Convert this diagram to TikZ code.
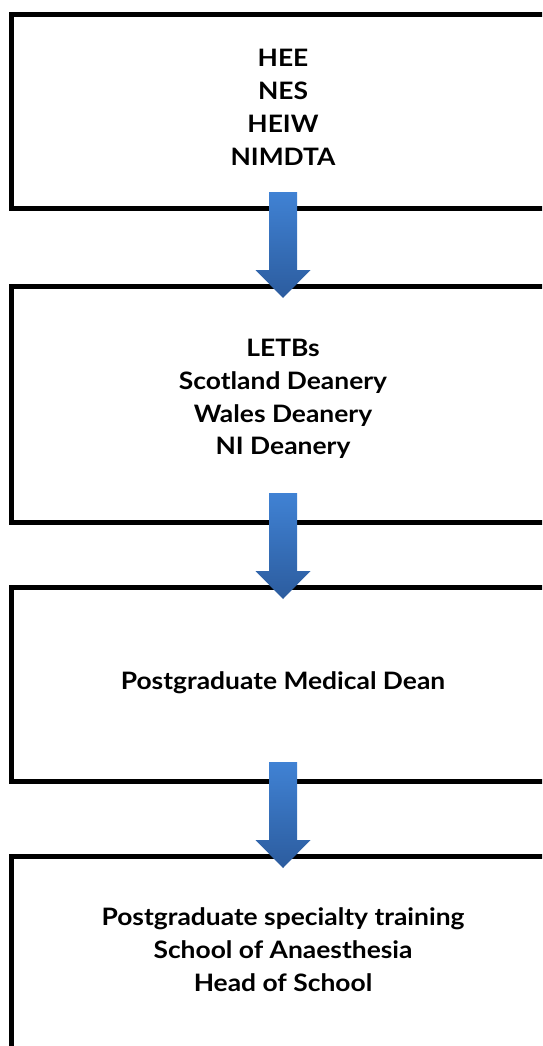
\documentclass[tikz,border=0pt]{standalone}
\usepackage{fontspec}
\setmainfont{Lato}[FakeStretch=1.1]
\usetikzlibrary{calc}
\definecolor{arrowtop}{RGB}{64,130,212}
\definecolor{arrowbot}{RGB}{44,92,158}
\tikzset{
  box/.style={draw=black, line width=5pt, fill=white, inner sep=0pt, outer sep=0pt, minimum width=543pt},
  boxtext/.style={align=center, font=\fontsize{24}{32.8}\selectfont\bfseries, inner sep=0pt},
  flow/.style={top color=arrowtop, bottom color=arrowbot, draw=none}
}
\newcommand\flowarrow[1]{%
  \shade[flow] ($(#1.north)+(-14,-94)$) -- ($(#1.north)+(14,-94)$) --
    ($(#1.north)+(14,-16)$) -- ($(#1.north)+(27.5,-16)$) --
    ($(#1.north)+(0,12)$) -- ($(#1.north)+(-27.5,-16)$) --
    ($(#1.north)+(-14,-16)$) -- cycle;}
\begin{document}
\begin{tikzpicture}[x=1pt, y=-1pt]
\useasboundingbox (0,0) rectangle (542,1046);
\clip (0,0) rectangle (542,1046);
\node[box, minimum height=193.5pt] (b1) at (283,111.25) {};
\node[box, minimum height=236pt] (b2) at (283,404) {};
\node[box, minimum height=194pt] (b3) at (283,684) {};
\node[box, minimum height=244pt] (b4) at (283,978) {};
\node[boxtext] (t1) at (283,107.5) {HEE\\NES\\HEIW\\NIMDTA};
\node[boxtext] (t2) at (283,399) {LETBs\\Scotland Deanery\\Wales Deanery\\NI Deanery};
\node[boxtext] (t3) at (283,682.5) {Postgraduate Medical Dean};
\node[boxtext] (t4) at (283,949.5) {Postgraduate specialty training\\School of Anaesthesia\\Head of School};
\flowarrow{b2}
\flowarrow{b3}
\flowarrow{b4}
\end{tikzpicture}
\end{document}
